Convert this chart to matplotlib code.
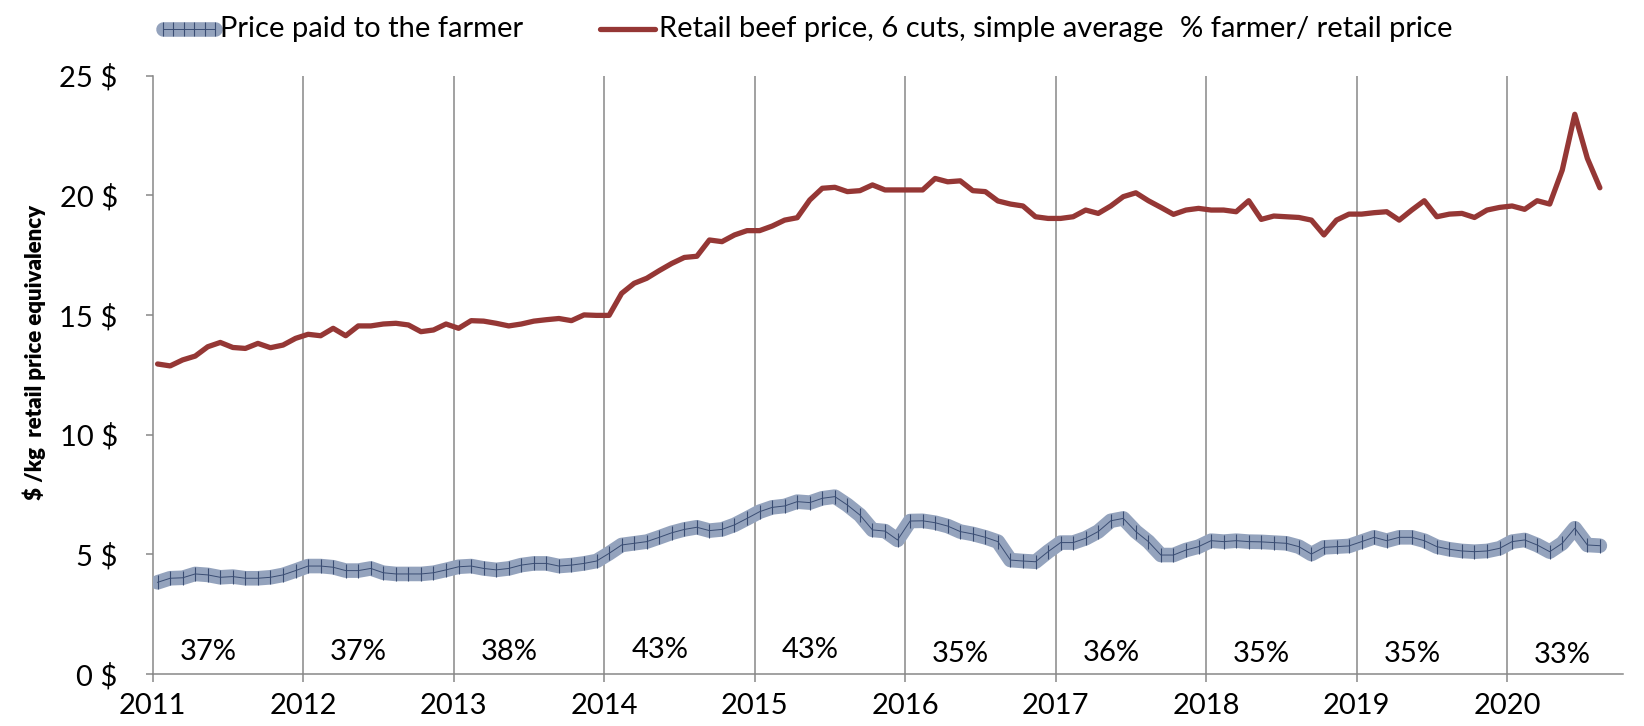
import matplotlib
matplotlib.use('Agg')
import matplotlib.pyplot as plt
import numpy as np
from matplotlib.lines import Line2D

plt.rcParams['font.family'] = ['Lato', 'DejaVu Sans']

# monthly series, Jan 2011 - Aug 2020 ($/kg retail price equivalency)
retail = [
    12.95, 12.87, 13.12, 13.28, 13.67, 13.85, 13.64, 13.60, 13.81, 13.63, 13.74, 14.02,  # 2011
    14.19, 14.13, 14.44, 14.13, 14.54, 14.54, 14.62, 14.65, 14.58, 14.30, 14.37, 14.62,  # 2012
    14.44, 14.76, 14.74, 14.65, 14.54, 14.62, 14.74, 14.80, 14.85, 14.76, 15.00, 14.98,  # 2013
    14.98, 15.90, 16.32, 16.53, 16.85, 17.15, 17.40, 17.45, 18.13, 18.06, 18.34, 18.52,  # 2014
    18.52, 18.71, 18.96, 19.06, 19.80, 20.29, 20.33, 20.15, 20.19, 20.43, 20.22, 20.22,  # 2015
    20.22, 20.22, 20.70, 20.56, 20.60, 20.19, 20.15, 19.76, 19.63, 19.55, 19.10, 19.03,  # 2016
    19.03, 19.10, 19.38, 19.24, 19.55, 19.94, 20.10, 19.77, 19.49, 19.20, 19.38, 19.45,  # 2017
    19.38, 19.38, 19.31, 19.77, 18.99, 19.13, 19.10, 19.07, 18.96, 18.34, 18.96, 19.21,  # 2018
    19.21, 19.27, 19.31, 18.96, 19.38, 19.77, 19.10, 19.21, 19.24, 19.07, 19.38, 19.49,  # 2019
    19.55, 19.41, 19.77, 19.63, 21.05, 23.38, 21.54, 20.31,                              # 2020
]
farmer = [
    3.83, 4.00, 4.02, 4.18, 4.14, 4.04, 4.07, 4.00, 4.00, 4.04, 4.14, 4.32,
    4.51, 4.51, 4.46, 4.32, 4.32, 4.41, 4.23, 4.18, 4.18, 4.18, 4.23, 4.35,
    4.48, 4.51, 4.41, 4.35, 4.41, 4.55, 4.62, 4.62, 4.51, 4.55, 4.62, 4.72,
    5.04, 5.39, 5.46, 5.53, 5.71, 5.90, 6.04, 6.13, 5.99, 6.04, 6.23, 6.50,
    6.78, 6.96, 7.02, 7.20, 7.16, 7.34, 7.41, 7.06, 6.64, 6.02, 5.97, 5.60,
    6.39, 6.40, 6.32, 6.18, 5.95, 5.85, 5.71, 5.53, 4.76, 4.72, 4.69, 5.11,
    5.49, 5.49, 5.67, 5.95, 6.40, 6.50, 5.95, 5.53, 4.97, 4.97, 5.18, 5.32,
    5.57, 5.53, 5.57, 5.53, 5.52, 5.49, 5.46, 5.32, 5.01, 5.29, 5.32, 5.35,
    5.53, 5.71, 5.57, 5.71, 5.71, 5.57, 5.32, 5.21, 5.14, 5.11, 5.14, 5.25,
    5.53, 5.60, 5.39, 5.11, 5.46, 6.09, 5.39, 5.36,
]
years = list(range(2011, 2021))
share_pct = [37, 37, 38, 43, 43, 35, 36, 35, 35, 33]

ytick_vals = [0, 5, 10, 15, 20, 25]
ytick_labels = ['0 $', '5 $', '10 $', '15 $', '20 $', '25 $']

# mid-month positions on a decimal-year axis
t = 2011 + (np.arange(len(retail)) + 0.4) / 12

RED = '#953735'
BLUE = '#94a3bd'
DARK = '#3a4d73'
GRID = '#878787'
FS = 21

fig = plt.figure(figsize=(16.44, 7.26), dpi=100)
ax = fig.add_axes([0.0928, 0.0716, 0.8944, 0.8244])

for y in years[1:]:
    ax.axvline(y, color=GRID, lw=1.1, zorder=1)

# farmer price: thick patterned band
ax.plot(t, farmer, color=BLUE, lw=10.5, solid_capstyle='round', solid_joinstyle='round', zorder=3)
ax.plot(t, farmer, color=DARK, lw=0.7, zorder=4)
ax.plot(t, farmer, ls='none', marker='|', ms=10.5, mew=0.8, color=DARK, zorder=4)

ax.plot(t, retail, color=RED, lw=3.8, solid_joinstyle='round', solid_capstyle='round', zorder=5)

label_y = [0.93, 0.93, 0.93, 1.0, 1.0, 0.84, 0.86, 0.84, 0.84, 0.80]
for yr, p, ly in zip(years, share_pct, label_y):
    ax.text(yr + 0.37, ly, f'{p}%', ha='center', va='center', fontsize=FS)

ax.set_xlim(2011, 2020.77)
ax.set_ylim(0, 25)
ax.set_xticks(years)
ax.set_xticklabels([str(y) for y in years], fontsize=FS)
ax.set_yticks(ytick_vals)
ax.set_yticklabels(ytick_labels, fontsize=FS)
ax.tick_params(axis='y', direction='out', length=5, width=1.1, color=GRID, pad=20)
ax.tick_params(axis='x', direction='out', length=6, width=1.1, color=GRID, pad=8)

for s in ['top', 'right']:
    ax.spines[s].set_visible(False)
for s in ['left', 'bottom']:
    ax.spines[s].set_color(GRID)
    ax.spines[s].set_linewidth(1.1)

fig.text(0.021, 0.515, '$ /kg  retail price equivalency', rotation=90,
         ha='center', va='center', fontsize=16, fontweight='heavy')

# legend drawn in figure coordinates
ly = 0.960
W = 1644.0
fig.add_artist(Line2D([163 / W, 215 / W], [ly, ly], color=BLUE, lw=10.5, solid_capstyle='round'))
fig.add_artist(Line2D([163 / W, 215 / W], [ly, ly], color=DARK, lw=0.7))
for xx in np.linspace(163, 215, 6):
    fig.add_artist(Line2D([xx / W], [ly], ls='none', marker='|', ms=10.5, mew=0.8, color=DARK))
fig.text(220 / W, ly, 'Price paid to the farmer', ha='left', va='center', fontsize=FS)
fig.add_artist(Line2D([600 / W, 655 / W], [ly, ly], color=RED, lw=3.8, solid_capstyle='round'))
fig.text(659 / W, ly, 'Retail beef price, 6 cuts, simple average', ha='left', va='center', fontsize=FS)
fig.text(1180 / W, ly, '% farmer/ retail price', ha='left', va='center', fontsize=FS)

fig.savefig('out.png', dpi=100)
